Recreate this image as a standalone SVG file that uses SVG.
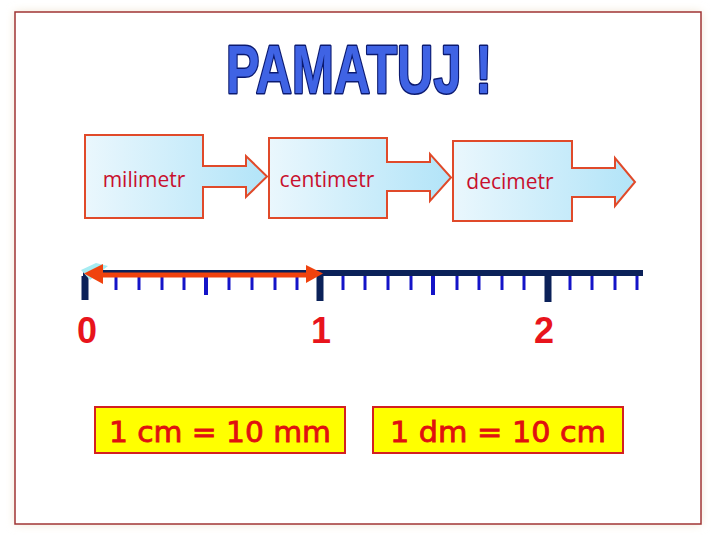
<svg xmlns="http://www.w3.org/2000/svg" width="720" height="540" viewBox="0 0 720 540">
<defs>
<linearGradient id="boxg" x1="0" y1="0" x2="1" y2="0">
<stop offset="0" stop-color="#eaf7fd"/>
<stop offset="1" stop-color="#b2e4f8"/>
</linearGradient>
<filter id="glow" x="-5%" y="-5%" width="110%" height="110%">
<feGaussianBlur stdDeviation="5"/>
</filter>
<style>
.box{fill:url(#boxg);stroke:#e04a2a;stroke-width:2;stroke-linejoin:miter}
.lbl{font-family:"Open Sans","Liberation Sans",sans-serif;font-size:21px;fill:#c8102e;text-anchor:middle}
.num{font-family:"Liberation Sans",Arial,sans-serif;font-weight:bold;font-size:36px;fill:#e8141c;text-anchor:middle}
.eq{fill:#ffff00;stroke:#d42020;stroke-width:2}
.eqt{font-family:"DejaVu Sans",sans-serif;font-size:28px;fill:#e01010;stroke:#e01010;stroke-width:0.8;text-anchor:middle}
.minor{stroke:#1414c8;stroke-width:3}
.half{stroke:#1414c8;stroke-width:4}
.major{stroke:#0b2159;stroke-width:7}
</style>
</defs>
<rect x="0" y="0" width="720" height="540" fill="#ffffff"/>
<rect x="15" y="12" width="686" height="512" fill="#efe3cf" filter="url(#glow)"/>
<rect id="frame" x="15" y="12" width="686" height="512" fill="#ffffff" stroke="#a03434" stroke-width="1.5"/>
<g id="title">
<text x="359" y="93" font-family="'Liberation Sans',Arial,sans-serif" font-weight="bold" font-size="68" textLength="266" lengthAdjust="spacingAndGlyphs" fill="#3f63e4" stroke="#0b1a70" stroke-width="3" stroke-linejoin="round" paint-order="stroke" text-anchor="middle">PAMATUJ !</text>
</g>
<g id="milimetr">
<path class="box" d="M85,135 H203 V166 H246 V156 L267,176.5 L246,197 V187 H203 V218 H85 Z"/>
<text class="lbl" x="144" y="187">milimetr</text>
</g>
<g id="centimetr">
<path class="box" d="M269,138 H387 V162 H430 V154 L451,177.5 L430,201 V191 H387 V218 H269 Z"/>
<text class="lbl" x="327" y="187">centimetr</text>
</g>
<g id="decimetr">
<path class="box" d="M453,141 H572 V168 H615 V158 L635,182 L615,206 V197 H572 V221 H453 Z"/>
<text class="lbl" x="510" y="189">decimetr</text>
</g>
<g id="numberline">
<line x1="83" y1="273" x2="643" y2="273" stroke="#0b2159" stroke-width="6"/>
<g class="ticks">
<line class="major" x1="85" y1="276" x2="85" y2="300"/>
<line class="minor" x1="116" y1="276" x2="116" y2="290"/>
<line class="minor" x1="139" y1="276" x2="139" y2="290"/>
<line class="minor" x1="162" y1="276" x2="162" y2="290"/>
<line class="minor" x1="184" y1="276" x2="184" y2="290"/>
<line class="half" x1="206" y1="276" x2="206" y2="295"/>
<line class="minor" x1="229" y1="276" x2="229" y2="290"/>
<line class="minor" x1="252" y1="276" x2="252" y2="290"/>
<line class="minor" x1="275" y1="276" x2="275" y2="290"/>
<line class="minor" x1="297" y1="276" x2="297" y2="290"/>
<line class="major" x1="320" y1="276" x2="320" y2="301"/>
<line class="minor" x1="343" y1="276" x2="343" y2="290"/>
<line class="minor" x1="365" y1="276" x2="365" y2="290"/>
<line class="minor" x1="388" y1="276" x2="388" y2="290"/>
<line class="minor" x1="411" y1="276" x2="411" y2="290"/>
<line class="half" x1="433" y1="276" x2="433" y2="295"/>
<line class="minor" x1="457" y1="276" x2="457" y2="290"/>
<line class="minor" x1="479" y1="276" x2="479" y2="290"/>
<line class="minor" x1="502" y1="276" x2="502" y2="290"/>
<line class="minor" x1="524" y1="276" x2="524" y2="290"/>
<line class="major" x1="548" y1="276" x2="548" y2="302"/>
<line class="minor" x1="570" y1="276" x2="570" y2="290"/>
<line class="minor" x1="592" y1="276" x2="592" y2="290"/>
<line class="minor" x1="615" y1="276" x2="615" y2="290"/>
<line class="minor" x1="637" y1="276" x2="637" y2="290"/>
</g>
</g>
<g id="connectors">
<polygon points="81,270 96,263 108,266 90,280" fill="#a6ecf2"/>
<line x1="100" y1="275" x2="309" y2="275" stroke="#f0420e" stroke-width="5"/>
<polygon points="84,273.5 103,264 103,284" fill="#f0420e"/>
<polygon points="323,273.5 306,265 306,283" fill="#f0420e"/>
</g>
<g id="labels">
<text class="num" x="87" y="343">0</text>
<text class="num" x="321" y="343">1</text>
<text class="num" x="544" y="343">2</text>
</g>
<g id="eq1">
<rect class="eq" x="95" y="407" width="250" height="46"/>
<text class="eqt" x="220" y="442" textLength="222" lengthAdjust="spacingAndGlyphs">1 cm = 10 mm</text>
</g>
<g id="eq2">
<rect class="eq" x="373" y="407" width="250" height="46"/>
<text class="eqt" x="498" y="442" textLength="216" lengthAdjust="spacingAndGlyphs">1 dm = 10 cm</text>
</g>
</svg>
